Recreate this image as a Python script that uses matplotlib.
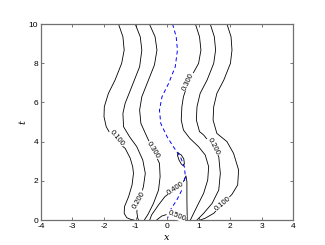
import matplotlib
matplotlib.use("Agg")
import matplotlib.pyplot as plt

plt.rcParams['font.family'] = ['Liberation Sans', 'DejaVu Sans']
plt.rcParams['axes.unicode_minus'] = False

# ---- contour curves (x, t) ----
c01_left_x = [-1.54, -1.40, -1.36, -1.44, -1.65, -1.86, -1.99, -2.00, -1.93, -1.75, -1.54, -1.33,
              -1.17, -1.09, -1.065, -1.11, -1.22, -1.35, -1.36, -1.28, -1.15, -1.05]
c01_left_t = [10.0, 9.35, 8.67, 7.99, 7.14, 6.46, 5.78, 5.27, 4.76, 4.25, 3.91, 3.66,
              3.16, 2.72, 2.38, 1.79, 1.19, 0.68, 0.34, 0.12, 0.03, 0.0]

c02_left_x = [-1.01, -0.85, -0.80, -0.87, -1.12, -1.33, -1.40, -1.38, -1.19, -0.96, -0.77,
              -0.69, -0.75, -0.87, -0.96, -0.93, -0.90]
c02_left_t = [10.0, 9.35, 8.67, 7.82, 6.80, 5.95, 5.44, 4.76, 4.25, 3.74, 3.06,
              2.38, 1.70, 1.02, 0.43, 0.09, 0.0]

c03_left_x = [-0.56, -0.38, -0.32, -0.40, -0.59, -0.80, -0.87, -0.83, -0.64, -0.44, -0.24,
              -0.22, -0.27, -0.43, -0.60, -0.72]
c03_left_t = [10.0, 9.35, 8.67, 7.91, 7.14, 6.29, 5.61, 4.93, 4.25, 3.57, 2.89,
              2.21, 1.53, 0.85, 0.30, 0.0]

c04_x = [-0.55, -0.49, -0.27, -0.07, 0.28, 0.52, 0.60, 0.63, 0.63, 0.64]
c04_t = [0.0, 0.26, 0.77, 1.19, 1.62, 1.96, 2.25, 1.96, 1.02, 0.0]

c04_island_x = [0.35, 0.45, 0.53, 0.55, 0.52, 0.45, 0.38, 0.33, 0.35]
c04_island_t = [3.42, 3.32, 3.12, 2.88, 2.76, 2.86, 3.06, 3.30, 3.42]

c05_x = [-0.33, -0.17, 0.04, 0.30, 0.51, 0.59]
c05_t = [0.0, 0.20, 0.31, 0.22, 0.09, 0.0]

c03_right_x = [0.90, 1.03, 1.075, 1.00, 0.68, 0.52, 0.47, 0.45, 0.52, 0.72, 1.00, 1.21,
               1.32, 1.29, 1.16, 1.00, 0.87, 0.74]
c03_right_t = [10.0, 9.35, 8.67, 7.99, 7.06, 6.29, 5.78, 5.10, 4.59, 4.17, 3.74, 3.32,
               2.72, 2.04, 1.36, 0.85, 0.43, 0.0]

c02_right_x = [1.37, 1.50, 1.54, 1.48, 1.27, 1.05, 0.95, 0.93, 1.03, 1.16, 1.46, 1.64,
               1.69, 1.64, 1.43, 1.16, 0.95]
c02_right_t = [10.0, 9.35, 8.67, 7.99, 7.14, 6.46, 5.78, 5.10, 4.51, 4.34, 3.74, 3.23,
               2.38, 1.53, 0.85, 0.34, 0.0]

c01_right_x = [1.90, 2.03, 2.06, 2.01, 1.80, 1.58, 1.48, 1.46, 1.58, 1.90, 2.11, 2.27,
               2.24, 2.06, 1.76, 1.48, 1.21, 1.05]
c01_right_t = [10.0, 9.35, 8.67, 7.99, 7.14, 6.46, 5.78, 5.10, 4.42, 4.00, 3.40, 2.55,
               1.79, 1.31, 0.82, 0.34, 0.09, 0.0]

ridge_x = [0.175, 0.29, 0.33, 0.26, 0.05, -0.16, -0.24, -0.20, 0.0, 0.20, 0.42, 0.55,
           0.58, 0.47, 0.31, 0.10, 0.0]
ridge_t = [10.0, 9.35, 8.67, 7.82, 6.97, 6.29, 5.61, 4.93, 4.25, 3.74, 3.23, 2.72,
           2.21, 1.53, 1.02, 0.51, 0.0]

label_text = ['0.100', '0.200', '0.300', '0.400', '0.500', '0.300', '0.200', '0.100']
label_x = [-1.59, -0.87, -0.44, 0.28, 0.30, 0.68, 1.46, 1.76]
label_t = [4.17, 1.02, 3.57, 1.62, 0.22, 7.06, 3.74, 0.82]
label_rot = [-50, 60, -58, 34, -22, 65, -62, 40]

x_ticks = [-4, -3, -2, -1, 0, 1, 2, 3, 4]
t_ticks = [0, 2, 4, 6, 8, 10]

fig = plt.figure(figsize=(3.25, 2.45), dpi=100)
ax = fig.add_axes([0.126, 0.102, 0.776, 0.800])

curves = [(c01_left_x, c01_left_t), (c02_left_x, c02_left_t), (c03_left_x, c03_left_t),
          (c04_x, c04_t), (c04_island_x, c04_island_t), (c05_x, c05_t),
          (c03_right_x, c03_right_t), (c02_right_x, c02_right_t), (c01_right_x, c01_right_t)]
for cx, ct in curves:
    ax.plot(cx, ct, color='black', lw=0.6, solid_joinstyle='round')

ax.plot(ridge_x, ridge_t, color='#0000ff', lw=0.7, linestyle=(0, (4, 3)))

for s, lx, lt, r in zip(label_text, label_x, label_t, label_rot):
    ax.text(lx, lt, s, rotation=r, rotation_mode='anchor', ha='center', va='center',
            fontsize=5.5, zorder=5,
            bbox=dict(facecolor='white', edgecolor='none', pad=0.3))

ax.set_xlim(-4, 4)
ax.set_ylim(0, 10)
ax.set_xticks(x_ticks)
ax.set_yticks(t_ticks)
ax.set_xticklabels([str(v) for v in x_ticks])
ax.set_yticklabels([str(v) for v in t_ticks])
ax.tick_params(direction='in', length=2.5, width=0.5, labelsize=6, top=True, right=True,
               color='#404040')
ax.tick_params(axis='x', pad=2.5)
ax.tick_params(axis='y', pad=2.0)
for sp in ax.spines.values():
    sp.set_color('#707070')
    sp.set_linewidth(0.9)

ax.set_xlabel('x', fontfamily='DejaVu Serif', style='italic', fontsize=7, labelpad=1.5)
ax.set_ylabel('t', fontfamily='DejaVu Serif', style='italic', fontsize=7, labelpad=1)

fig.savefig('out.png', dpi=100)
